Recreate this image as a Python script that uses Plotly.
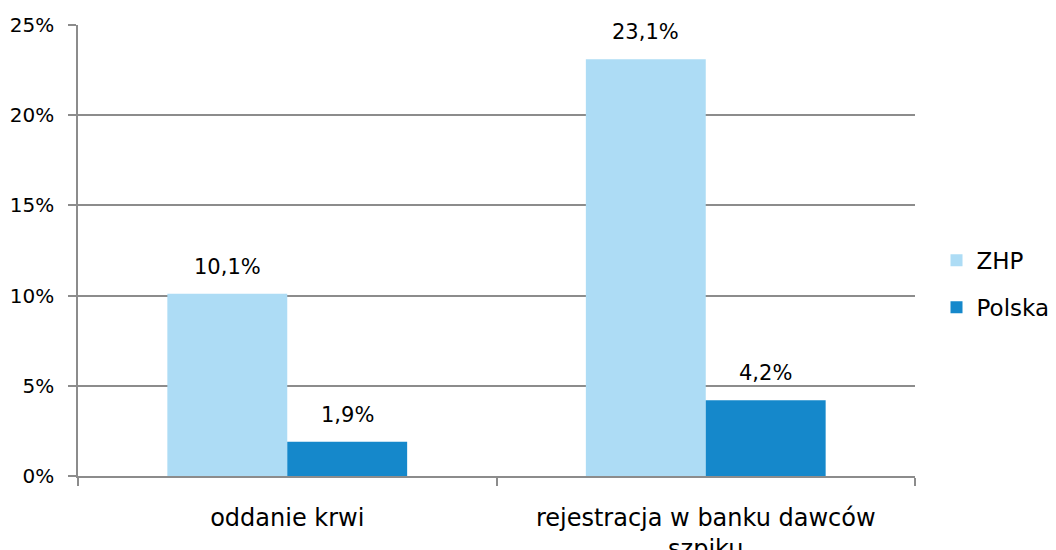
import plotly.graph_objects as go

categories = ["oddanie krwi", "rejestracja w banku dawców<br>szpiku"]
zhp = [10.1, 23.1]
polska = [1.9, 4.2]
series_names = ["ZHP", "Polska"]
colors = ["#ADDCF5", "#1588CB"]

FONT = "DejaVu Sans"
W, H = 1056, 550
# page body adds an 8px offset; margins compensate for it
ML, MR, MT, MB = 70, 149, 17, 82
BARGAP = 0.427

fig = go.Figure()
series = [(series_names[0], zhp, colors[0], "a"), (series_names[1], polska, colors[1], "b")]
for name, vals, col, grp in series:
    fig.add_trace(go.Bar(
        name=name, x=categories, y=vals, marker=dict(color=col, line=dict(width=0)),
        legendgroup=grp,
    ))

# value labels centred above each bar
plot_w = W - ML - MR
bar_w = plot_w / len(categories) * (1 - BARGAP) / len(series)
for i, (name, vals, col, grp) in enumerate(series):
    shift = (i - (len(series) - 1) / 2) * bar_w
    for c, v in zip(categories, vals):
        fig.add_annotation(x=c, y=v, xref="x", yref="y", text=f"{v:.1f}%".replace(".", ","),
                           showarrow=False, xshift=shift, yshift=27, yanchor="middle",
                           font=dict(family=FONT, size=21, color="#000000"))

fig.update_layout(
    width=W, height=H,
    margin=dict(l=ML, r=MR, t=MT, b=MB, autoexpand=False),
    paper_bgcolor="white", plot_bgcolor="white",
    separators=", ",
    barmode="group", bargap=BARGAP, bargroupgap=0,
    font=dict(family=FONT, size=20, color="#000000"),
    legend=dict(x=1.0257, xanchor="left", y=0.426, yanchor="middle",
                font=dict(family=FONT, size=23), tracegroupgap=14,
                traceorder="grouped"),
    showlegend=True,
)
fig.update_yaxes(range=[0, 25], dtick=5, ticksuffix="%", showgrid=True,
                 gridcolor="#8C8C8C", gridwidth=1.5, showline=True, linecolor="#8C8C8C",
                 linewidth=1.5, ticks="outside", ticklen=8, tickcolor="#8C8C8C",
                 tickwidth=1.5, zeroline=False, ticklabelstandoff=10, automargin=False)
fig.update_xaxes(showline=True, linecolor="#8C8C8C", linewidth=1.5, ticks="outside",
                 tickson="boundaries", ticklen=8, tickcolor="#8C8C8C", tickwidth=1.5,
                 ticklabelstandoff=19, automargin=False,
                 tickfont=dict(family=FONT, size=24))

fig.write_html("out.html")
